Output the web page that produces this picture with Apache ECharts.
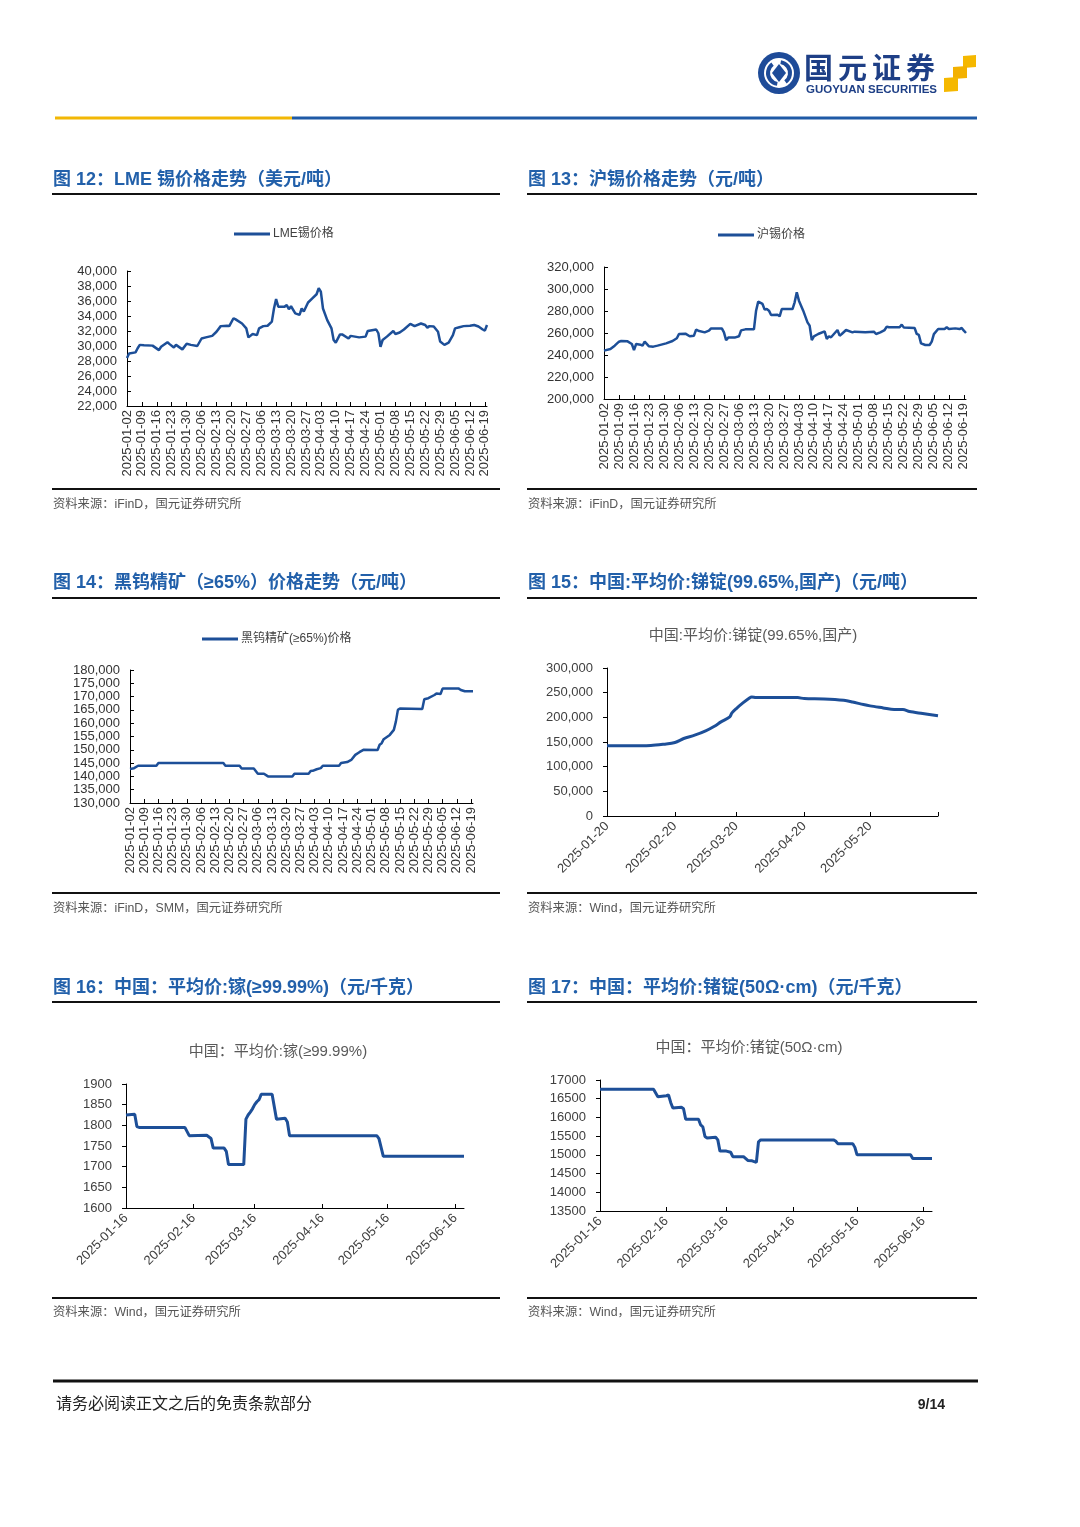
<!DOCTYPE html>
<html>
<head>
<meta charset="utf-8">
<script src="https://cdn.jsdelivr.net/npm/echarts@6/dist/echarts.min.js"></script>
<style>
html,body{margin:0;padding:0;background:#fff;}
#page{width:1080px;height:1527px;}
</style>
</head>
<body>
<div id="page"></div>
<script>
// ---------- data ----------
const lmeTin = [['01-02',28400],['01-03',29000],['01-06',29150],['01-07',29700],['01-08',30150],['01-10',30100],['01-14',30050],['01-17',29450],['01-18',29900],['01-21',30500],['01-22',30250],['01-24',29800],['01-25',30150],['01-28',29550],['01-30',30300],['02-01',30150],['02-04',30000],['02-06',31000],['02-08',31150],['02-11',31350],['02-13',31900],['02-15',32650],['02-18',32700],['02-19',32650],['02-21',33700],['02-22',33550],['02-25',33000],['02-27',32350],['02-28',31150],['03-02',31600],['03-04',31450],['03-05',32350],['03-07',32650],['03-09',32700],['03-11',33250],['03-12',35000],['03-13',36250],['03-14',35250],['03-17',35250],['03-18',35450],['03-19',34900],['03-20',35300],['03-22',34350],['03-24',34150],['03-25',35000],['03-26',34600],['03-28',35800],['03-30',36350],['04-01',36900],['04-02',37700],['04-03',37250],['04-04',35000],['04-06',33450],['04-08',32350],['04-09',30800],['04-10',30450],['04-12',31550],['04-13',31550],['04-16',31000],['04-17',31350],['04-21',31150],['04-24',31250],['04-25',32000],['04-29',32200],['04-30',31700],['05-01',29900],['05-02',30800],['05-04',31250],['05-07',32000],['05-08',31600],['05-10',31800],['05-12',32200],['05-15',32950],['05-17',32650],['05-20',33000],['05-22',32800],['05-23',32450],['05-24',32650],['05-26',32600],['05-28',31900],['05-29',30600],['05-31',30150],['06-02',30450],['06-04',31450],['06-05',32350],['06-07',32500],['06-09',32650],['06-12',32700],['06-14',32800],['06-16',32600],['06-18',32200],['06-19',32050],['06-20',32800]];

const shTin = [['01-02',244000],['01-05',245500],['01-07',248500],['01-09',252100],['01-10',252700],['01-13',252400],['01-15',250000],['01-16',244500],['01-17',250000],['01-19',249400],['01-20',248500],['01-21',252100],['01-23',247900],['01-25',247600],['01-27',248500],['01-31',250600],['02-03',252700],['02-05',255200],['02-06',259100],['02-09',259400],['02-11',257000],['02-13',257600],['02-14',263000],['02-15',262100],['02-18',260600],['02-20',262100],['02-21',264200],['02-26',264200],['02-27',260600],['02-28',253500],['03-01',255800],['03-04',255800],['03-06',257000],['03-07',262400],['03-09',263300],['03-13',263300],['03-14',280300],['03-15',288500],['03-17',286400],['03-18',281200],['03-19',281800],['03-20',280300],['03-21',276400],['03-24',276700],['03-25',275200],['03-26',281800],['03-31',281800],['04-01',287900],['04-02',297000],['04-03',289400],['04-05',280300],['04-07',269700],['04-08',266700],['04-09',253500],['04-10',257000],['04-12',259100],['04-15',261500],['04-16',254600],['04-17',257000],['04-18',256100],['04-21',262700],['04-22',257600],['04-23',259100],['04-25',262700],['04-28',260600],['04-29',261200],['05-04',260600],['05-08',261200],['05-09',259100],['05-11',260600],['05-13',262700],['05-14',265800],['05-15',265200],['05-20',265200],['05-21',267600],['05-22',264900],['05-27',264600],['05-28',259100],['05-29',258200],['05-30',250600],['06-01',249100],['06-03',249100],['06-04',252100],['06-05',259000],['06-07',263600],['06-10',263600],['06-11',265200],['06-12',263600],['06-15',264200],['06-17',263600],['06-18',264600],['06-19',262100],['06-20',260000]];

const wolframite = [['01-02',142800],['01-04',143100],['01-06',144000],['01-15',144000],['01-16',145000],['02-17',145000],['02-18',144000],['02-25',144000],['02-26',143000],['03-04',143000],['03-06',141000],['03-09',141000],['03-11',140000],['03-23',140000],['03-24',141000],['03-31',141000],['04-01',142000],['04-02',142100],['04-04',142700],['04-06',143100],['04-07',144000],['04-15',144000],['04-16',145000],['04-19',145400],['04-21',146200],['04-23',148100],['04-25',149100],['04-27',150000],['05-04',149900],['05-05',151900],['05-06',152500],['05-07',154000],['05-10',155600],['05-12',157500],['05-13',160600],['05-14',165000],['05-15',165500],['05-26',165300],['05-27',169000],['05-29',169400],['06-01',170600],['06-02',171200],['06-04',171000],['06-05',173000],['06-13',173000],['06-14',172500],['06-16',172000],['06-20',172000]];

const antimony = [['01-20',142300],['01-28',142300],['02-09',142900],['02-15',145600],['02-20',149000],['02-24',157100],['03-01',163800],['03-06',172600],['03-10',182000],['03-13',190800],['03-17',200900],['03-18',209000],['03-20',217800],['03-23',229200],['03-26',239300],['03-27',241400],['03-29',240000],['04-17',240000],['04-20',238000],['04-29',237300],['05-08',234600],['05-12',231200],['05-17',225900],['05-20',223200],['05-26',219100],['05-31',215700],['06-04',215700],['06-07',211700],['06-13',207700],['06-20',203000]];

const gallium = [['01-16',1825],['01-20',1827],['01-21',1797],['01-22',1795],['02-12',1795],['02-14',1775],['02-22',1776],['02-24',1768],['02-25',1745],['03-02',1745],['03-03',1737],['03-04',1705],['03-11',1705],['03-12',1815],['03-13',1825],['03-14',1832],['03-15',1840],['03-16',1850],['03-17',1857],['03-18',1862],['03-19',1875],['03-24',1875],['03-26',1815],['03-30',1817],['03-31',1808],['04-01',1775],['05-11',1775],['05-12',1768],['05-14',1725],['06-20',1725]];

const germanium = [['01-16',16750],['02-10',16750],['02-11',16650],['02-12',16550],['02-16',16580],['02-17',16600],['02-18',16400],['02-19',16250],['02-23',16270],['02-24',16230],['02-25',15950],['03-03',15950],['03-04',15800],['03-05',15750],['03-06',15490],['03-07',15450],['03-11',15470],['03-12',15400],['03-13',15100],['03-16',15100],['03-18',15070],['03-19',14950],['03-24',14950],['03-26',14850],['03-28',14840],['03-30',14800],['03-31',15350],['04-01',15400],['05-05',15400],['05-06',15370],['05-07',15300],['05-14',15300],['05-15',15200],['05-16',15000],['06-10',15000],['06-11',14900],['06-20',14900]];

// axis ranges / ticks
const weeklyRange = ['2025-01-02', '2025-06-20'];
const antimonyRange = ['2025-01-20', '2025-06-20'];
const metalRange = ['2025-01-16', '2025-06-20'];
const seriesNames = ['LME锡价格', '沪锡价格', '黑钨精矿(≥65%)价格', '中国:平均价:锑锭(99.65%,国产)', '中国：平均价:镓(≥99.99%)', '中国：平均价:锗锭(50Ω·cm)'];
const yTicks = [
  {min: 22000, max: 40000, interval: 2000},
  {min: 200000, max: 320000, interval: 20000},
  {min: 130000, max: 180000, interval: 5000},
  {min: 0, max: 300000, interval: 50000},
  {min: 1600, max: 1900, interval: 50},
  {min: 13500, max: 17000, interval: 500}
];
const pageTitles = ['图 12：LME 锡价格走势（美元/吨）', '图 13：沪锡价格走势（元/吨）', '图 14：黑钨精矿（≥65%）价格走势（元/吨）', '图 15：中国:平均价:锑锭(99.65%,国产)（元/吨）', '图 16：中国：平均价:镓(≥99.99%)（元/千克）', '图 17：中国：平均价:锗锭(50Ω·cm)（元/千克）'];
const sources = ['资料来源：iFinD，国元证券研究所', '资料来源：iFinD，国元证券研究所', '资料来源：iFinD，SMM，国元证券研究所', '资料来源：Wind，国元证券研究所', '资料来源：Wind，国元证券研究所', '资料来源：Wind，国元证券研究所'];

// ---------- helpers ----------
function dateRange(a, b) {
  const out = [];
  const d = new Date(a + 'T00:00:00Z');
  const e = new Date(b + 'T00:00:00Z');
  while (d <= e) {
    out.push(d.toISOString().slice(0, 10));
    d.setUTCDate(d.getUTCDate() + 1);
  }
  return out;
}
const full = arr => arr.map(p => ['2025-' + p[0], p[1]]);

const FONT = "'Liberation Sans','Noto Sans CJK SC',sans-serif";
const LINE = '#1D4F98';

const grids = [
  {left: 127, top: 271, width: 360, height: 135},
  {left: 604, top: 267, width: 362, height: 132},
  {left: 130, top: 670, width: 343, height: 133},
  {left: 607, top: 668, width: 331, height: 148},
  {left: 126, top: 1084, width: 338, height: 124},
  {left: 600, top: 1080, width: 332, height: 131}
];
const cats = [dateRange(...weeklyRange), dateRange(...weeklyRange), dateRange(...weeklyRange),
              dateRange(...antimonyRange), dateRange(...metalRange), dateRange(...metalRange)];
const datas = [lmeTin, shTin, wolframite, antimony, gallium, germanium];

const xAxes = cats.map((c, i) => {
  const weekly = i < 3;
  const day = i === 3 ? '20' : '16';
  return {
    type: 'category', gridIndex: i, data: c, boundaryGap: false,
    axisLine: {lineStyle: {color: '#000', width: 1}},
    axisTick: weekly ? {interval: 6, inside: true, length: 4, lineStyle: {color: '#000'}}
                     : {interval: (idx, v) => v.slice(8) === day, inside: true, length: 4, lineStyle: {color: '#000'}},
    axisLabel: weekly ? {interval: 6, rotate: 90, margin: 4, fontSize: 13, fontFamily: FONT, color: '#333'}
                      : {interval: (idx, v) => v.slice(8) === day && v !== '2025-06-20', rotate: 45, margin: 8, fontSize: 13, fontFamily: FONT, color: '#404040'},
    splitLine: {show: false}
  };
});
const yAxes = yTicks.map((t, i) => ({
  type: 'value', gridIndex: i, min: t.min, max: t.max, interval: t.interval,
  axisLine: {show: true, lineStyle: {color: '#000', width: 1}},
  axisTick: {show: true, inside: i < 3, length: 4, lineStyle: {color: '#000'}},
  axisLabel: {margin: i < 3 ? 10 : 14, fontSize: 13, fontFamily: FONT, color: i < 3 ? '#333' : '#404040',
              formatter: i >= 4 ? (v => String(v)) : (v => v.toLocaleString('en-US'))},
  splitLine: {show: false}
}));
const series = datas.map((d, i) => ({
  name: seriesNames[i], type: 'line', xAxisIndex: i, yAxisIndex: i,
  data: full(d), showSymbol: false, symbol: 'none',
  smooth: i === 3 ? 0.3 : false,
  lineStyle: {color: LINE, width: i < 3 ? 2.5 : 3}, itemStyle: {color: LINE}
}));

const legends = [
  {data: [seriesNames[0]], left: 234, top: 228},
  {data: [seriesNames[1]], left: 718, top: 229},
  {data: [seriesNames[2]], left: 202, top: 633}
].map(l => Object.assign(l, {icon: 'rect', itemWidth: 36, itemHeight: 3, itemGap: 0, padding: 0, selectedMode: false,
  textStyle: {fontSize: 12, fontFamily: FONT, color: '#404040', padding: [0, 0, 0, -2]}}));

// ---------- page decoration ----------
const g = [];
function txt(text, x, y, size, color, opts) {
  opts = opts || {};
  g.push({type: 'text', silent: true, style: {text, x, y, fill: color,
    font: (opts.bold ? 'bold ' : '') + size + 'px ' + (opts.family || FONT),
    align: opts.align || 'left', textAlign: opts.align || 'left',
    verticalAlign: 'middle', textVerticalAlign: 'middle'}});
}
function ln(x1, y1, x2, y2, w, c) {
  g.push({type: 'line', silent: true, shape: {x1, y1, x2, y2}, style: {stroke: c, lineWidth: w}});
}
// header
ln(55, 118, 292, 118, 3, '#F2B705');
ln(292, 118, 977, 118, 3, '#1F5AA6');
// logo
g.push({type: 'circle', shape: {cx: 779, cy: 73, r: 21}, style: {fill: '#1E4B98'}});
g.push({type: 'circle', shape: {cx: 779, cy: 73, r: 15}, style: {fill: '#fff'}});
g.push({type: 'arc', shape: {cx: 779, cy: 73, r: 11, startAngle: Math.PI * 0.55, endAngle: Math.PI * 1.3}, style: {stroke: '#1E4B98', lineWidth: 4, fill: 'none'}});
g.push({type: 'arc', shape: {cx: 779, cy: 73, r: 11, startAngle: Math.PI * 1.55, endAngle: Math.PI * 2.3}, style: {stroke: '#1E4B98', lineWidth: 4, fill: 'none'}});
g.push({type: 'polygon', shape: {points: [[779, 64], [786, 73], [779, 82], [772, 73]]}, style: {fill: '#1E4B98'}});
['国', '元', '证', '券'].forEach((ch, k) => txt(ch, 804 + k * 34, 68, 29, '#1E3F86', {bold: true, family: "'Noto Sans CJK SC',sans-serif"}));
txt('GUOYUAN SECURITIES', 806, 89.5, 11.5, '#1E3F86', {bold: true});
g.push({type: 'polygon', shape: {points: [[963, 56], [976, 55], [976, 67], [963, 68]]}, style: {fill: '#F5B800'}});
g.push({type: 'polygon', shape: {points: [[953, 67], [967, 66], [967, 78], [953, 79]]}, style: {fill: '#F3B100'}});
g.push({type: 'polygon', shape: {points: [[944, 78], [958, 77], [958, 91], [944, 92]]}, style: {fill: '#F5B800'}});

// section frames
const cols = [[52, 500, 53], [527, 977, 528]];
const rows = [[180, 194, 489, 505], [583, 598, 893, 909], [988, 1002, 1298, 1313]];
for (let r = 0; r < 3; r++) {
  for (let c = 0; c < 2; c++) {
    const i = r * 2 + c;
    const [x1, x2, tx] = cols[c];
    const [ty, uy, by, sy] = rows[r];
    txt(pageTitles[i], tx, ty, 18, '#2260AA', {bold: true});
    ln(x1, uy, x2, uy, 2, '#111');
    ln(x1, by, x2, by, 2, '#111');
    txt(sources[i], tx, sy, 12.3, '#555');
  }
}
// in-chart titles (Wind charts)
txt(seriesNames[3], 753, 636, 15, '#595959', {align: 'center'});
txt(seriesNames[4], 278, 1052, 15, '#595959', {align: 'center'});
txt(seriesNames[5], 749, 1048, 15, '#595959', {align: 'center'});
// footer
ln(53, 1381, 978, 1381, 3, '#111');
txt('请务必阅读正文之后的免责条款部分', 56, 1405, 16, '#222');
txt('9/14', 945, 1405, 14, '#222', {bold: true, align: 'right'});

const chart = echarts.init(document.getElementById('page'), null, {renderer: 'canvas'});
chart.setOption({
  animation: false,
  backgroundColor: '#fff',
  grid: grids.map(gr => Object.assign({containLabel: false}, gr)),
  xAxis: xAxes,
  yAxis: yAxes,
  legend: legends,
  series: series,
  graphic: g
});
</script>
</body>
</html>
